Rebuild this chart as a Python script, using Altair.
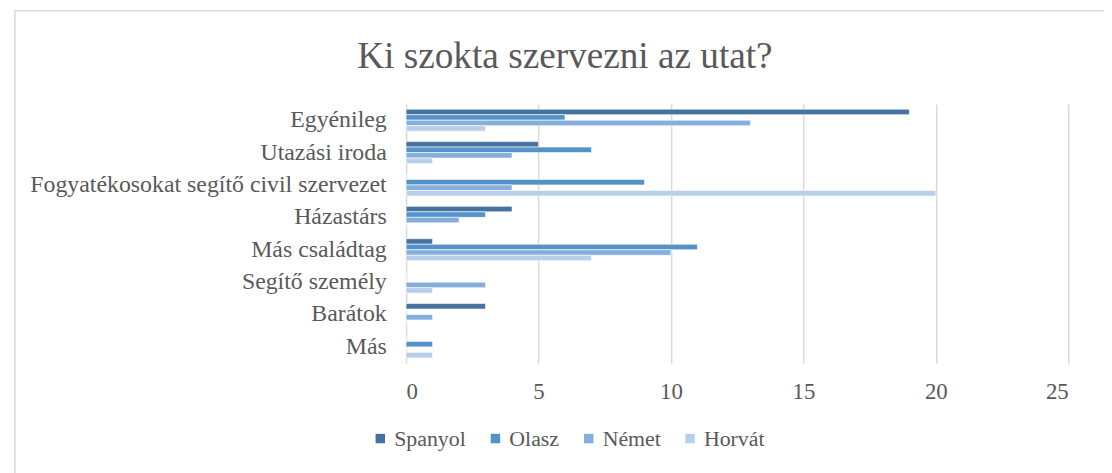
import altair as alt
import pandas as pd

categories = ["Egyénileg", "Utazási iroda", "Fogyatékosokat segítő civil szervezet",
              "Házastárs", "Más családtag", "Segítő személy", "Barátok", "Más\u00a0\u00a0\u00a0\u00a0"]
series = ["Spanyol", "Olasz", "Német", "Horvát"]
spanyol = [19, 5, 0, 4, 1, 0, 3, 0]
olasz = [6, 7, 9, 3, 11, 0, 0, 1]
nemet = [13, 4, 4, 2, 10, 3, 1, 0]
horvat = [3, 1, 20, 0, 7, 1, 0, 1]
colors = ["#46729F", "#5592C9", "#84AEDC", "#B8CEE9"]

rows = []
for s, vals in zip(series, [spanyol, olasz, nemet, horvat]):
    for c, v in zip(categories, vals):
        rows.append({"cat": c, "series": s, "value": v})
df = pd.DataFrame(rows)

FONT = "Liberation Serif"
GRAY = "#595959"

bars = alt.Chart(df).mark_bar(stroke="white", strokeWidth=0.6).encode(
    x=alt.X("value:Q", scale=alt.Scale(domain=[0, 25]),
            axis=alt.Axis(values=[0, 5, 10, 15, 20, 25], title=None, domain=False, ticks=False,
                          grid=True, gridColor="#D9D9D9", gridWidth=1.5,
                          labelFont=FONT, labelFontSize=23, labelColor=GRAY, labelPadding=18)),
    y=alt.Y("cat:N", sort=categories,
            scale=alt.Scale(paddingInner=0.32, paddingOuter=0.16),
            axis=alt.Axis(title=None, domain=False, ticks=False, labelFont=FONT, labelFontSize=24,
                          labelColor=GRAY, labelPadding=20, labelLimit=600)),
    yOffset=alt.YOffset("series:N", sort=series, scale=alt.Scale(paddingInner=0, paddingOuter=0)),
    color=alt.Color("series:N", sort=series, scale=alt.Scale(domain=series, range=colors),
                    legend=alt.Legend(orient="none", legendX=-37, legendY=326, direction="horizontal",
                                      title=None, symbolType="square", symbolSize=90,
                                      symbolStrokeWidth=0, labelFont=FONT, labelFontSize=22,
                                      labelColor=GRAY, columnPadding=18, labelOffset=3)),
)

border = alt.Chart(pd.DataFrame({"a": [0]})).mark_rect(
    fill=None, stroke="#D9D9D9", strokeWidth=1.5).encode(
    x=alt.value(-394), x2=alt.value(720), y=alt.value(-94), y2=alt.value(400))

title = alt.Chart(pd.DataFrame({"t": ["Ki szokta szervezni az utat?"]})).mark_text(
    font=FONT, fontSize=37.5, color=GRAY, align="center", baseline="alphabetic").encode(
    text="t:N", x=alt.value(160), y=alt.value(-36))

chart = alt.layer(border, bars, title).properties(
    width=667, height=261,
    autosize=alt.AutoSizeParams(type="none"),
    padding={"left": 401, "top": 95, "right": 36, "bottom": 109},
    background="white",
).configure_view(stroke=None)

chart.save("out.html", embed_options={"renderer": "svg", "actions": False})
